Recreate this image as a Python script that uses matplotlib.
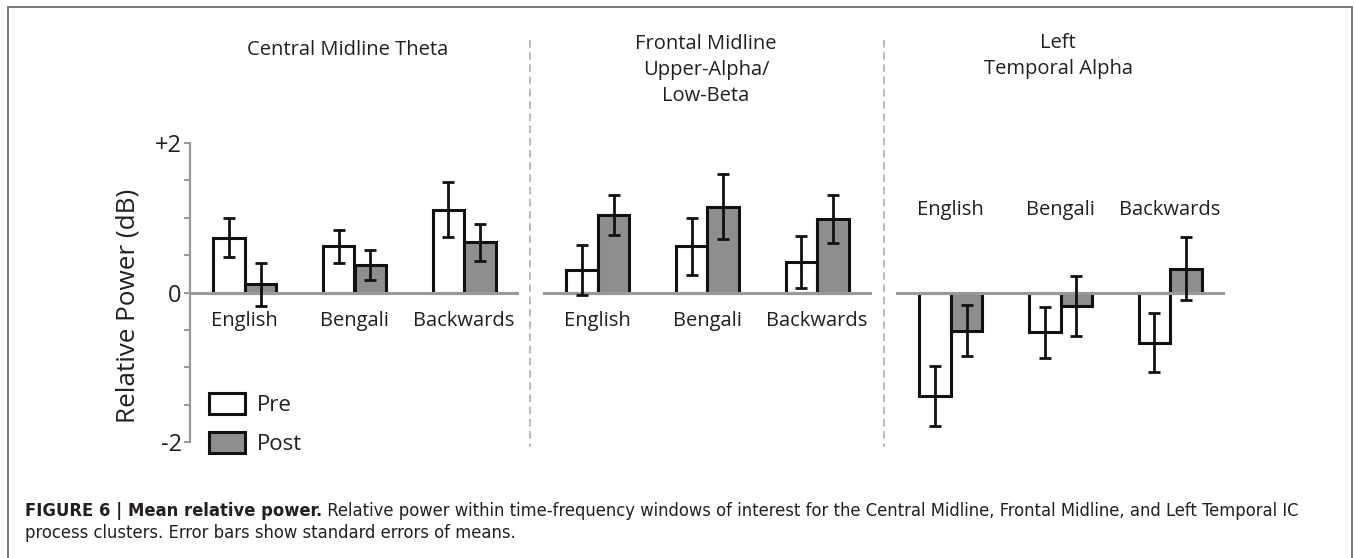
import matplotlib
matplotlib.use('Agg')
import matplotlib.pyplot as plt
from matplotlib import font_manager
from matplotlib.font_manager import FontProperties
from matplotlib.patches import Rectangle, Patch
from matplotlib.lines import Line2D
import numpy as np

# ---------------- data ----------------
categories = ['English', 'Bengali', 'Backwards']
panel_titles = ['Central Midline Theta',
                'Frontal Midline\nUpper-Alpha/\nLow-Beta',
                'Left\nTemporal Alpha']
legend_labels = ['Pre', 'Post']

pre_central = [0.73, 0.62, 1.11]
pre_central_err = [0.26, 0.22, 0.37]
post_central = [0.11, 0.37, 0.67]
post_central_err = [0.29, 0.20, 0.25]

pre_frontal = [0.30, 0.62, 0.41]
pre_frontal_err = [0.33, 0.38, 0.345]
post_frontal = [1.04, 1.15, 0.98]
post_frontal_err = [0.27, 0.44, 0.32]

pre_temporal = [-1.38, -0.53, -0.67]
pre_temporal_err = [0.40, 0.34, 0.39]
post_temporal = [-0.51, -0.18, 0.32]
post_temporal_err = [0.34, 0.40, 0.42]

ytick_values = [-2, 0, 2]
ytick_labels = ['-2', '0', '+2']
ylabel = 'Relative Power (dB)'

caption_bold = 'FIGURE 6 | Mean relative power.'
caption_rest = (' Relative power within time-frequency windows of interest for the '
                'Central Midline, Frontal Midline, and Left Temporal IC')
caption_line2 = 'process clusters. Error bars show standard errors of means.'

# ---------------- style ----------------
W, H, DPI = 1355, 558, 100
FONT = 'Open Sans'
TEXT_C = '#231f20'
POST_C = '#8e8e8e'
EDGE_C = '#111111'
AXIS_C = '#9a9a9a'


def find_condensed():
    reg, bold = None, None
    prefs = [('LiberationSansNarrow-Regular', 'LiberationSansNarrow-Bold'),
             ('DejaVuSansCondensed.', 'DejaVuSansCondensed-Bold'),
             ('RobotoCondensed-Regular', 'RobotoCondensed-Bold'),
             ('NotoSans-Condensed.', 'NotoSans-CondensedBold'),
             ('OpenSans-CondensedRegular', 'OpenSans-CondensedBold')]
    files = [f.fname for f in font_manager.fontManager.ttflist]
    for r, b in prefs:
        rf = [f for f in files if r in f.split('/')[-1]]
        bf = [f for f in files if b in f.split('/')[-1]]
        if rf and bf:
            return FontProperties(fname=rf[0]), FontProperties(fname=bf[0])
    return (FontProperties(family='Liberation Sans'),
            FontProperties(family='Liberation Sans', weight='bold'))


cap_reg, cap_bold = find_condensed()

plt.rcParams['font.family'] = [FONT, 'DejaVu Sans']

fig = plt.figure(figsize=(W / DPI, H / DPI), dpi=DPI)


def fx(px):
    return px / W


def fy(py):
    return 1 - py / H


panels = [
    (pre_central, pre_central_err, post_central, post_central_err),
    (pre_frontal, pre_frontal_err, post_frontal, post_frontal_err),
    (pre_temporal, pre_temporal_err, post_temporal, post_temporal_err),
]
panel_left_px = [190, 543, 896]
panel_w_px = 329
y_top_px, y_bot_px = 143, 442
label_y = [-0.38, -0.38, 1.10]

bw = 0.288
off = 0.144
x = np.arange(len(categories))
for i, (pre, pre_e, post, post_e) in enumerate(panels):
    ax = fig.add_axes([fx(panel_left_px[i]), fy(y_bot_px),
                       panel_w_px / W, (y_bot_px - y_top_px) / H])
    ax.set_xlim(-0.5, 2.5)
    ax.set_ylim(-2, 2)
    ax.patch.set_alpha(0)
    ax.bar(x - off, pre, bw, color='white', edgecolor=EDGE_C, linewidth=2.2, zorder=2)
    ax.bar(x + off, post, bw, color=POST_C, edgecolor=EDGE_C, linewidth=2.2, zorder=2)
    ax.axhline(0, color=AXIS_C, lw=2.2, zorder=3)
    ax.errorbar(x - off, pre, yerr=pre_e, fmt='none', ecolor=EDGE_C,
                elinewidth=2, capsize=4, capthick=2, zorder=4)
    ax.errorbar(x + off, post, yerr=post_e, fmt='none', ecolor=EDGE_C,
                elinewidth=2, capsize=4, capthick=2, zorder=4)
    for s in ['top', 'right', 'bottom', 'left']:
        ax.spines[s].set_visible(False)
    ax.set_xticks([])
    for j, c in enumerate(categories):
        ax.text(x[j], label_y[i], c, ha='center', va='center', fontsize=14.5,
                color=TEXT_C)
    if i == 0:
        ax.spines['left'].set_visible(True)
        ax.spines['left'].set_color(AXIS_C)
        ax.spines['left'].set_linewidth(1.6)
        ax.set_yticks(ytick_values)
        ax.set_yticklabels(ytick_labels)
        ax.set_yticks(np.arange(-2, 2.01, 0.5), minor=True)
        ax.tick_params(axis='y', which='both', direction='out', length=4,
                       width=1.4, color=AXIS_C, labelsize=17, labelcolor=TEXT_C, pad=2)
        handles = [Patch(facecolor='white', edgecolor=EDGE_C, linewidth=2.2),
                   Patch(facecolor=POST_C, edgecolor=EDGE_C, linewidth=2.2)]
        ax.legend(handles, legend_labels, loc='upper left',
                  bbox_to_anchor=(fx(209), fy(393)), bbox_transform=fig.transFigure,
                  frameon=False, fontsize=16, handlelength=1.62, handleheight=1.08,
                  handletextpad=0.55, labelspacing=0.72, borderpad=0, borderaxespad=0,
                  labelcolor=TEXT_C)
    else:
        ax.set_yticks([])

# y-axis label
fig.text(fx(128), fy(306), ylabel, rotation=90, ha='center', va='center',
         fontsize=18.8, color=TEXT_C)

# panel titles
title_cx = [348, 706, 1058]
title_cy = [50, 70, 56]
for t, cx, cy in zip(panel_titles, title_cx, title_cy):
    fig.text(fx(cx), fy(cy), t, ha='center', va='center', fontsize=14.5,
             color=TEXT_C, linespacing=1.38)

# dashed separators
for sx in [530, 884]:
    fig.add_artist(Line2D([fx(sx), fx(sx)], [fy(40), fy(447)],
                          transform=fig.transFigure, color='#a8a8a8', lw=1.1,
                          dashes=(5, 3)))

# outer frame
fig.add_artist(Rectangle((fx(8), fy(562)), (1352 - 8) / W, (562 - 7) / H,
                         transform=fig.transFigure, fill=False,
                         edgecolor='#6e6e6e', lw=1.3))

# caption, with font size fitted to the width of line 1
renderer = fig.canvas.get_renderer()
cap_left, cap_right = 25, 1299
size = 10
tb = fig.text(fx(cap_left), fy(515.5), caption_bold, fontproperties=cap_bold,
              fontsize=size, color=TEXT_C, va='baseline')
tr = fig.text(0, fy(515.5), caption_rest, fontproperties=cap_reg, fontsize=size,
              color=TEXT_C, va='baseline')
wb = tb.get_window_extent(renderer).width
wr = tr.get_window_extent(renderer).width
size = size * (cap_right - cap_left) / (wb + wr)
tb.set_fontsize(size)
tr.set_fontsize(size)
wb = tb.get_window_extent(renderer).width
tr.set_x(fx(cap_left + wb))
fig.text(fx(cap_left), fy(537.5), caption_line2, fontproperties=cap_reg,
         fontsize=size, color=TEXT_C, va='baseline')

fig.savefig('out.png', dpi=DPI)
